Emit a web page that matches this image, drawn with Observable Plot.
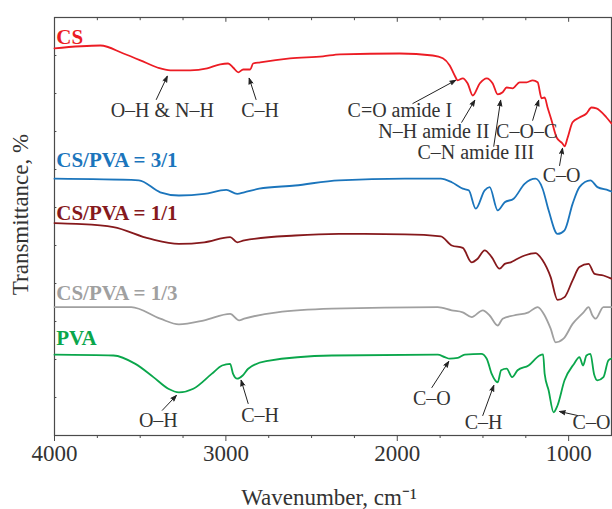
<!DOCTYPE html>
<html>
<head>
<meta charset="utf-8">
<script src="https://cdn.jsdelivr.net/npm/d3@7"></script>
<script src="https://cdn.jsdelivr.net/npm/@observablehq/plot@0.6"></script>
<style>
  html, body { margin: 0; padding: 0; background: #fff; }
  #chart { width: 612px; height: 509px; }
</style>
</head>
<body>
<div id="chart"></div>
<script>
// ---- Data: [wavenumber (cm-1), transmittance (a.u., offset per series)] ----
const seriesNames = ["CS", "CS/PVA = 3/1", "CS/PVA = 1/1", "CS/PVA = 1/3", "PVA"];
const seriesColors = ["#ec1c24", "#1b75bc", "#86191c", "#a0a0a0", "#0aa64b"];

const cs = [[4000,96.8],[3732,97.5],[3598,95.5],[3499,93.8],[3400,92],[3324,91.3],[3208,91.3],[3109,91.8],[3033,92.8],[2987,93],[2958,92],[2928,90.8],[2899,91.5],[2858,91.5],[2841,93],[2800,93.3],[2626,94.3],[2433,94.8],[2334,95.3],[1985,95.5],[1793,95],[1734,94.3],[1694,92.5],[1665,90],[1647,88.8],[1618,89.3],[1589,88],[1560,85],[1519,88],[1478,89.3],[1443,88],[1414,85.3],[1385,85.8],[1362,87],[1327,86.8],[1286,88.3],[1245,88.3],[1210,88.8],[1181,88.3],[1158,84.3],[1140,84.5],[1123,82],[1100,78.8],[1070,74.5],[1036,73],[1024,72.3],[1007,74.3],[977,78.3],[937,79.5],[896,80.5],[867,82],[838,81.8],[779,79.5],[750,78]];

const cspva31 = [[4000,64.2],[3508,63.8],[3383,60.8],[3274,60],[3126,60.4],[2998,61.4],[2934,60.4],[2893,60.8],[2806,61.7],[2596,62.5],[2340,63.8],[1956,64.2],[1746,64.2],[1682,63.3],[1618,61.7],[1583,61.3],[1542,56.7],[1490,61.3],[1461,62.1],[1414,56.3],[1373,58.3],[1321,59.2],[1257,62.9],[1193,64.2],[1152,61.7],[1117,56.3],[1065,50.4],[1024,51.3],[977,57.9],[937,62.1],[873,63.8],[832,62.1],[768,61.3],[750,61]];

const cspva11 = [[4000,53.1],[3872,52.9],[3656,52.1],[3444,49.2],[3274,47.9],[3126,48.3],[2975,49.6],[2934,48.3],[2893,48.8],[2596,50],[2340,50.4],[1956,50.3],[1746,49.8],[1682,47.5],[1618,46.9],[1566,43.3],[1531,44.2],[1490,46.3],[1449,44.6],[1403,41.7],[1373,42.9],[1338,43.3],[1298,44.2],[1257,45],[1193,45.6],[1152,43.8],[1105,39.6],[1065,33.9],[1024,34.6],[977,38.8],[937,42.1],[884,42.9],[849,40.4],[797,40],[750,39.2]];

const cspva13 = [[4000,32.1],[3552,32.1],[3383,29.2],[3274,27.8],[3126,28.8],[2975,30.4],[2923,28.8],[2893,29.2],[2701,30.8],[2381,31.7],[1764,32.1],[1682,31.3],[1618,30.8],[1566,29.6],[1501,31.3],[1461,30],[1414,27.5],[1385,29.2],[1321,30],[1234,30.8],[1181,32.1],[1140,30],[1105,26.7],[1076,23.3],[1030,24.2],[977,27.9],[913,30.8],[884,32.1],[861,30],[843,29.2],[797,32.1],[750,32.1]];

const pva = [[4000,20.2],[3656,20],[3528,17.9],[3423,14.6],[3336,11.7],[3274,10.8],[3190,11.7],[3083,15.4],[3022,17.5],[2975,17.9],[2958,15.4],[2934,14.2],[2902,15],[2870,16.7],[2765,18.6],[2381,20],[1764,20.2],[1723,19.6],[1694,19.2],[1647,19.4],[1606,20.2],[1510,20.4],[1478,19.2],[1449,15.4],[1414,13.3],[1394,16.3],[1362,16.7],[1330,14.6],[1298,16.3],[1234,17.5],[1170,20],[1149,20.3],[1140,15.4],[1117,11.3],[1088,5.8],[1065,7.5],[1024,13.8],[969,17.9],[937,19.6],[916,17.5],[896,20],[873,20.4],[852,15.4],[832,13.8],[797,14.6],[768,18.8],[750,19.2]];

const seriesData = [cs, cspva31, cspva11, cspva13, pva];

// series label anchor (wavenumber, transmittance)
const labelWn = [3990, 3990, 3990, 3990, 3990];
const labelT = [99.5, 68.8, 55.5, 35.5, 24.3];

// peak assignment annotations
const annoLabels = ["O–H & N–H", "C–H", "C=O amide I", "N–H amide II", "C–N amide III", "C–O–C", "C–O", "O–H", "C–H", "C–O", "C–H", "C–O"];
const annoWn = [3371, 2800, 1985, 1787, 1542, 1245, 1041, 3394, 2800, 1798, 1496, 867];
const annoT = [81.3, 81.3, 81.3, 76, 70.8, 76, 65, 3.8, 5, 9.3, 3.3, 3.3];
// arrows: tail (wn, T) -> head (wn, T)
const arrowWn1 = [3406, 2824, 1909, 1624, 1437, 1210, 1053, 3371, 2870, 1798, 1501, 948];
const arrowT1  = [84, 84, 83, 78.3, 72.3, 78.8, 67.5, 6.3, 8, 12, 5, 5];
const arrowWn2 = [3342, 2864, 1659, 1548, 1397, 1175, 1036, 3289, 2911, 1700, 1437, 1053];
const arrowT2  = [89.8, 89.3, 88.8, 83.8, 83.8, 83.8, 71.8, 10, 13.8, 18.5, 12.5, 6];

// axis ticks
const majorTicks = [4000, 3000, 2000, 1000];
const minorTicks = [3750, 3500, 3250, 2750, 2500, 2250, 1750, 1500, 1250];
const yTicks = [9.5, 19, 28.5, 38, 47.5, 57, 66.5, 76, 85.5, 95];
const xDomain = [4000, 750];
const yDomain = [0, 104.5];

// ---- build tables ----
const lineRows = [];
seriesData.forEach((arr, i) => {
  arr.slice().sort((a, b) => a[0] - b[0]).forEach(([wn, t]) => lineRows.push({series: seriesNames[i], wn, t}));
});
const labelRows = seriesNames.map((s, i) => ({series: s, wn: labelWn[i], t: labelT[i], color: seriesColors[i]}));
const annoRows = annoLabels.map((l, i) => ({label: l, wn: annoWn[i], t: annoT[i]}));
const arrowRows = arrowWn1.map((w, i) => ({x1: w, y1: arrowT1[i], x2: arrowWn2[i], y2: arrowT2[i]}));

const ink = "#333";
const chart = Plot.plot({
  width: 612,
  height: 509,
  marginLeft: 54,
  marginRight: 1,
  marginTop: 17,
  marginBottom: 74,
  style: {fontFamily: "'Liberation Serif', 'Times New Roman', serif", color: ink, background: "#fff"},
  x: {domain: xDomain, axis: null},
  y: {domain: yDomain, axis: null},
  color: {domain: seriesNames, range: seriesColors},
  marks: [
    Plot.frame({stroke: "#4a4a4a", strokeWidth: 1.2}),
    Plot.axisX({ticks: majorTicks, tickSize: 6, tickPadding: 3, fontSize: 23, tickFormat: d3.format("d"), label: null, stroke: "#4a4a4a"}),
    Plot.axisX({ticks: minorTicks, tickSize: 3, tickFormat: () => "", label: null, stroke: "#4a4a4a"}),
    Plot.ruleX(majorTicks.concat(minorTicks), {y1: yDomain[1], y2: d => yDomain[1] - (d % 1000 === 0 ? 1.2 : 0.8), stroke: "#4a4a4a"}),
    Plot.ruleY(yTicks, {x1: xDomain[0], x2: xDomain[0] - 14, stroke: "#4a4a4a"}),
    Plot.line(lineRows, {x: "wn", y: "t", z: "series", stroke: "series", strokeWidth: 1.8, curve: "monotone-x"}),
    Plot.text(labelRows, {x: "wn", y: "t", text: "series", fill: "color", textAnchor: "start", fontSize: 21, fontWeight: "bold"}),
    Plot.arrow(arrowRows, {x1: "x1", y1: "y1", x2: "x2", y2: "y2", stroke: "#222", fill: "#222", strokeWidth: 1, headLength: 9, headAngle: 40}),
    Plot.text(annoRows, {x: "wn", y: "t", text: "label", fill: ink, fontSize: 20}),
    Plot.text(["Transmittance, %"], {frameAnchor: "left", textAnchor: "middle", rotate: -90, dx: -34, dy: -12, fontSize: 23, fill: ink, lineAnchor: "middle"}),
    Plot.text(["Wavenumber, cm⁻¹"], {frameAnchor: "bottom", dy: 62, dx: -4, fontSize: 23, fill: ink, lineAnchor: "middle"})
  ]
});
document.getElementById("chart").appendChild(chart);
</script>
</body>
</html>
